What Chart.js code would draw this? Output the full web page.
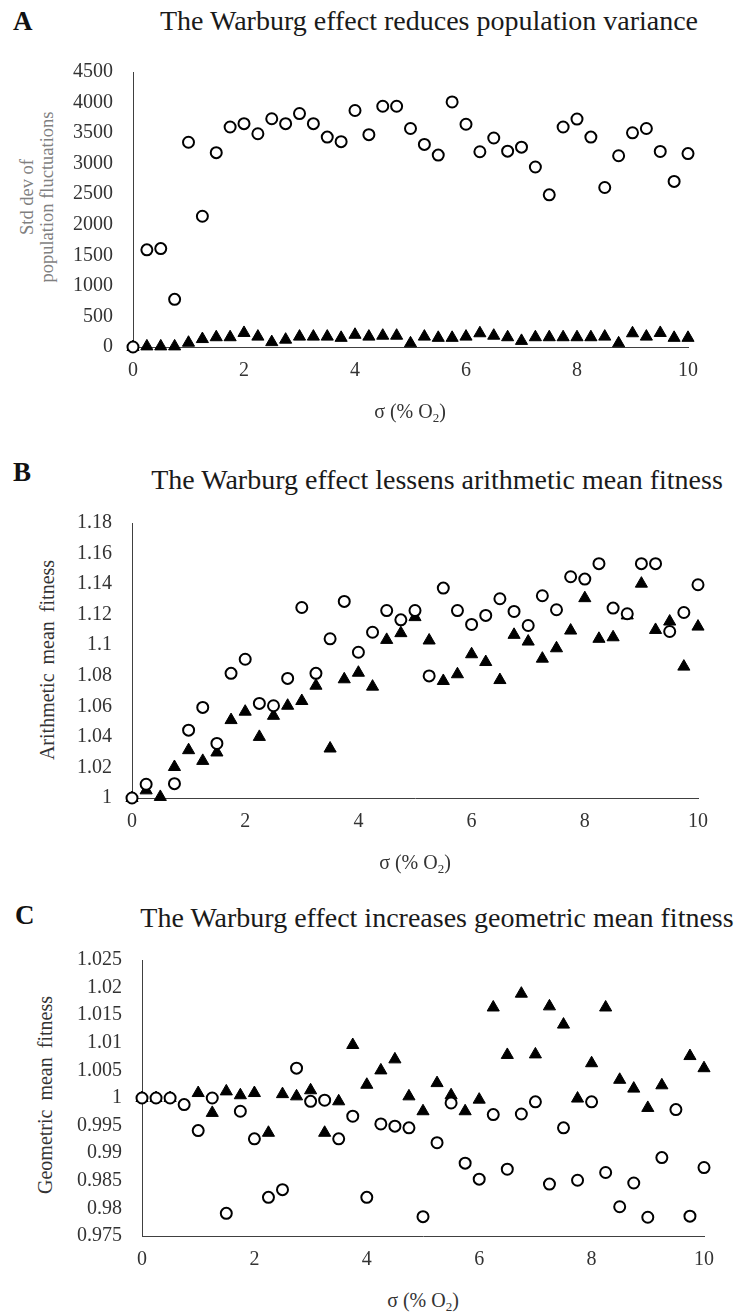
<!DOCTYPE html>
<html>
<head>
<meta charset="utf-8">
<script src="https://cdn.jsdelivr.net/npm/chart.js@4.4.1/dist/chart.umd.min.js"></script>
<style>
    body { margin: 0; background: #fff; width: 736px; height: 1314px; position: relative; overflow: hidden;
           font-family: "Liberation Serif", "Times New Roman", serif; }
    canvas { position: absolute; left: 0; }
    .panel { position: absolute; font-weight: bold; font-size: 27px; color: #111; transform: translateY(-50%); }
    .title { position: absolute; font-size: 28px; color: #1a1a1a; white-space: nowrap; transform: translate(-50%, -50%); }
    .xtitle { position: absolute; font-size: 20px; color: #333; white-space: nowrap; transform: translate(-50%, -50%); }
    .xtitle sub { font-size: 13px; vertical-align: -4px; line-height: 0; }
    .ytitle { position: absolute; font-size: 20px; color: #333; white-space: nowrap; text-align: center;
              line-height: 20px; transform: translate(-50%, -50%) rotate(-90deg); }
</style>
</head>
<body>

<div class="panel" style="left:13px; top:21px;">A</div>
<div class="title" style="left:429px; top:21px;">The Warburg effect reduces population variance</div>
<div class="ytitle" style="left:37px; top:197px; color:#7f7f7f; font-size:18.5px;">Std dev of<br>population fluctuations</div>
<canvas id="chartA" width="736" height="360" style="top:40px;"></canvas>
<div class="xtitle" style="left:410px; top:411px;">σ (% O<sub>2</sub>)</div>

<div class="panel" style="left:13px; top:472px;">B</div>
<div class="title" style="left:437px; top:480px;">The Warburg effect lessens arithmetic mean fitness</div>
<div class="ytitle" style="left:47px; top:660px; word-spacing:4px;">Arithmetic mean fitness</div>
<canvas id="chartB" width="736" height="370" style="top:490px;"></canvas>
<div class="xtitle" style="left:415px; top:862px;">σ (% O<sub>2</sub>)</div>

<div class="panel" style="left:15px; top:915px;">C</div>
<div class="title" style="left:437px; top:918px;">The Warburg effect increases geometric mean fitness</div>
<div class="ytitle" style="left:45px; top:1095px; word-spacing:4px;">Geometric mean fitness</div>
<canvas id="chartC" width="736" height="360" style="top:925px;"></canvas>
<div class="xtitle" style="left:423px; top:1300px;">σ (% O<sub>2</sub>)</div>

<script>
// sigma (% O2) values shared by all three panels
var sigma = [0, 0.25, 0.5, 0.75, 1, 1.25, 1.5, 1.75, 2, 2.25, 2.5, 2.75, 3, 3.25, 3.5, 3.75,
             4, 4.25, 4.5, 4.75, 5, 5.25, 5.5, 5.75, 6, 6.25, 6.5, 6.75, 7, 7.25, 7.5, 7.75,
             8, 8.25, 8.5, 8.75, 9, 9.25, 9.5, 9.75, 10];
var xTicks = [0, 2, 4, 6, 8, 10];

// A - std dev of population fluctuations
var varCircles = [0, 1590, 1610, 780, 3350, 2140, 3180, 3600, 3655, 3490, 3735, 3655, 3820, 3655,
                  3435, 3360, 3870, 3475, 3940, 3940, 3575, 3315, 3140, 4010, 3645, 3195, 3420,
                  3205, 3270, 2945, 2490, 3600, 3730, 3435, 2610, 3130, 3505, 3575, 3200, 2710, 3165];
var varTriangles = [0, 10, 10, 10, 70, 130, 160, 160, 230, 170, 80, 120, 170, 170, 170, 150, 200,
                    170, 185, 185, 60, 170, 150, 150, 170, 225, 185, 160, 100, 160, 160, 160, 160,
                    160, 170, 60, 225, 170, 230, 150, 150];
var varTicks = [0, 500, 1000, 1500, 2000, 2500, 3000, 3500, 4000, 4500];

// B - arithmetic mean fitness
var amCircles = [1.000, 1.009, null, 1.0094, 1.0444, 1.0593, 1.0357, 1.0816, 1.0908, 1.0619, 1.0604,
                 1.0783, 1.1247, 1.0816, 1.1042, 1.1287, 1.0954, 1.1085, 1.1227, 1.1166, 1.1227,
                 1.0799, 1.1374, 1.1227, 1.1136, 1.1195, 1.1304, 1.1221, 1.1129, 1.1324, 1.1232,
                 1.1448, 1.1433, 1.1534, 1.1243, 1.1206, 1.1534, 1.1534, 1.109, 1.1214, 1.1396];
var amTriangles = [1.000, 1.005, 1.0007, 1.0203, 1.0313, 1.0243, 1.0298, 1.051, 1.0565, 1.040, 1.0538,
                   1.0604, 1.0635, 1.0735, 1.0324, 1.0777, 1.082, 1.0729, 1.1035, 1.1079, 1.1184,
                   1.1031, 1.0766, 1.081, 1.0941, 1.089, 1.0772, 1.1068, 1.1024, 1.0912, 1.098,
                   1.1096, 1.1308, 1.1042, 1.1052, 1.1195, 1.1403, 1.11, 1.1155, 1.086, 1.1122];
var amTicks = [1, 1.02, 1.04, 1.06, 1.08, 1.1, 1.12, 1.14, 1.16, 1.18];

// C - geometric mean fitness
var gmCircles = [1.0, 1.0, 1.0, 0.9988, 0.9941, 1.0, 0.9791, 0.9976, 0.9926, 0.982, 0.9834, 1.0054,
                 0.9994, 0.9996, 0.9926, 0.9967, 0.982, 0.9953, 0.9949, 0.9946, 0.9785, 0.9919,
                 0.9991, 0.9882, 0.9853, 0.997, 0.9871, 0.9971, 0.9993, 0.9844, 0.9946, 0.9851,
                 0.9993, 0.9865, 0.9803, 0.9846, 0.9784, 0.9892, 0.9979, 0.9786, 0.9874];
var gmTriangles = [1.0, 1.0, 1.0, null, 1.0009, 0.9973, 1.0012, 1.0005, 1.0009, 0.9937, 1.0007, 1.0003,
                   1.0014, 0.9937, 0.9994, 1.0096, 1.0024, 1.005, 1.007, 1.0003, 0.9976, 1.0027,
                   1.0005, 0.9976, 0.9997, 1.0164, 1.0078, 1.0189, 1.0079, 1.0166, 1.0133, 0.9999,
                   1.0063, 1.0164, 1.0033, 1.0017, 0.9982, 1.0023, null, 1.0076, 1.0054];
var gmTicks = [0.975, 0.98, 0.985, 0.99, 0.995, 1, 1.005, 1.01, 1.015, 1.02, 1.025];

function buildPoints(ys) {
    var pts = [];
    for (var i = 0; i < sigma.length; i++) {
        if (ys[i] !== null) {
            pts.push({x: sigma[i], y: ys[i]});
        }
    }
    return pts;
}

function tickList(values) {
    return values.map(function (v) { return {value: v}; });
}

function drawPanel(canvasId, circles, triangles, yTicks, box) {
    var tickFont = {family: 'Liberation Serif', size: 20};
    var axisBorder = {display: true, color: '#404040', width: 1};
    var noGrid = {display: false, drawTicks: false, tickLength: 0};

    return new Chart(document.getElementById(canvasId), {
        type: 'scatter',
        data: {
            datasets: [
                {
                    label: 'circles',
                    data: buildPoints(circles),
                    pointStyle: 'circle',
                    pointRadius: 5.5,
                    pointBorderWidth: 2,
                    pointBackgroundColor: '#fff',
                    pointBorderColor: '#000',
                    clip: false
                },
                {
                    label: 'triangles',
                    data: buildPoints(triangles),
                    pointStyle: 'triangle',
                    pointRadius: 7,
                    pointBorderWidth: 1,
                    pointBackgroundColor: '#000',
                    pointBorderColor: '#000',
                    clip: false
                }
            ]
        },
        options: {
            responsive: false,
            animation: false,
            events: [],
            layout: {padding: {top: box.top, right: box.right, bottom: 0, left: 0}},
            plugins: {legend: {display: false}, tooltip: {enabled: false}},
            scales: {
                x: {
                    type: 'linear',
                    min: xTicks[0],
                    max: xTicks[xTicks.length - 1],
                    grid: noGrid,
                    border: axisBorder,
                    afterBuildTicks: function (axis) { axis.ticks = tickList(xTicks); },
                    afterFit: function (axis) { axis.height = box.xAxisH; },
                    ticks: {
                        font: tickFont,
                        color: '#333',
                        padding: 12,
                        maxRotation: 0,
                        callback: function (v) { return String(v); }
                    }
                },
                y: {
                    type: 'linear',
                    min: yTicks[0],
                    max: yTicks[yTicks.length - 1],
                    grid: noGrid,
                    border: axisBorder,
                    afterBuildTicks: function (axis) { axis.ticks = tickList(yTicks); },
                    afterFit: function (axis) { axis.width = box.left; },
                    ticks: {
                        font: tickFont,
                        color: '#333',
                        padding: 20,
                        callback: function (v) { return String(v); }
                    }
                }
            }
        }
    });
}

drawPanel('chartA', varCircles, varTriangles, varTicks, {top: 32, right: 48, left: 133, xAxisH: 53});
drawPanel('chartB', amCircles, amTriangles, amTicks, {top: 33, right: 38, left: 132, xAxisH: 62});
drawPanel('chartC', gmCircles, gmTriangles, gmTicks, {top: 35, right: 32, left: 142, xAxisH: 49});
</script>
</body>
</html>
